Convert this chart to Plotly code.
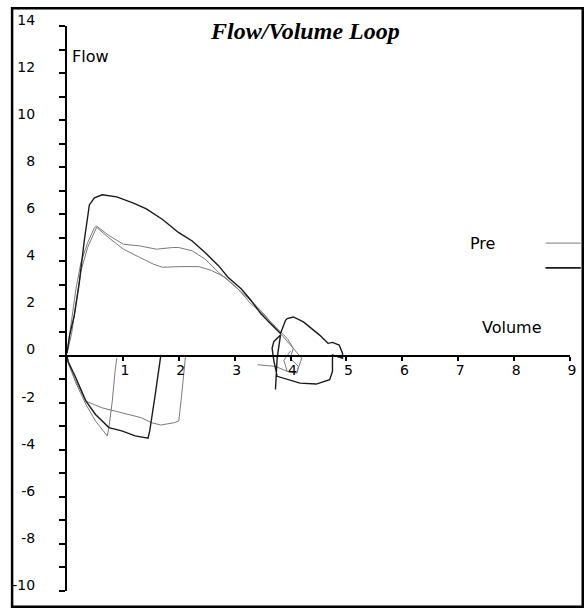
import plotly.graph_objects as go

# ---------------- data ----------------
# Post (dark) expiratory limb + tail loop
post_exp_x = [0.0, 0.05, 0.13, 0.22, 0.31, 0.40, 0.49, 0.63, 0.89, 1.19, 1.42, 1.71, 2.0, 2.24, 2.47, 2.71,
              2.88, 3.12, 3.29, 3.47, 3.64, 3.82, 3.91, 3.94, 4.05, 4.23, 4.52, 4.67, 4.75, 4.87, 4.93, 4.93,
              4.75, 4.75, 4.75, 4.70, 4.46, 4.17, 3.94, 3.76, 3.70, 3.67, 3.70, 3.82, 3.76, 3.73]
post_exp_y = [0.1, 0.9, 1.7, 3.1, 4.9, 6.4, 6.7, 6.83, 6.74, 6.48, 6.23, 5.78, 5.22, 4.87, 4.38, 3.82,
              3.33, 2.83, 2.35, 1.78, 1.36, 0.94, 1.5, 1.57, 1.64, 1.43, 0.87, 0.52, 0.56, 0.45, 0.1, -0.11,
              0.03, -0.53, -0.67, -1.02, -1.21, -1.17, -1.02, -0.88, -0.2, 0.31, 0.59, 0.87, -0.11, -1.44]
# Post (dark) inspiratory limb
post_insp_x = [0.0, 0.02, 0.16, 0.34, 0.51, 0.75, 0.98, 1.22, 1.45, 1.48, 1.57, 1.65, 1.68]
post_insp_y = [0.0, -0.25, -0.95, -1.94, -2.5, -3.06, -3.2, -3.41, -3.51, -3.2, -1.8, -0.39, 0.03]

# Pre trial 1 (grey): plateau ~4.5
pre1_exp_x = [0.0, 0.08, 0.16, 0.25, 0.37, 0.49, 0.53, 0.75, 1.01, 1.30, 1.60, 1.89, 2.0, 2.24, 2.47, 2.71,
              2.88, 3.12, 3.35, 3.55, 3.76, 3.94, 4.05, 4.11, 4.20, 4.11, 3.94, 3.73, 3.41]
pre1_exp_y = [0.1, 1.43, 2.83, 3.96, 4.8, 5.43, 5.5, 5.1, 4.73, 4.66, 4.52, 4.59, 4.59, 4.45, 4.1, 3.54,
              3.2, 2.7, 2.2, 1.7, 1.1, 0.6, 0.31, 0.17, -0.11, -0.74, -0.67, -0.46, -0.39]
pre1_insp_x = [0.0, 0.02, 0.16, 0.34, 0.51, 0.72, 0.75, 0.81, 0.86, 0.89]
pre1_insp_y = [0.0, -0.3, -1.17, -2.08, -2.78, -3.41, -3.06, -1.94, -0.67, -0.11]

# Pre trial 2 (grey): plateau ~3.8
pre2_exp_x = [0.0, 0.08, 0.16, 0.25, 0.37, 0.49, 0.53, 0.75, 1.01, 1.30, 1.54, 1.71, 2.01, 2.36, 2.59, 2.83,
              3.06, 3.29, 3.53, 3.76, 3.94, 4.05, 3.99, 4.14, 4.11, 3.94, 3.88, 4.0]
pre2_exp_y = [0.1, 0.9, 2.2, 3.6, 4.6, 5.3, 5.45, 5.0, 4.52, 4.17, 3.89, 3.75, 3.78, 3.78, 3.61, 3.33,
              2.83, 2.2, 1.71, 1.15, 0.73, 0.31, -0.11, -0.46, -0.74, -0.67, -0.2, 0.2]
pre2_insp_x = [0.0, 0.02, 0.16, 0.34, 0.63, 0.98, 1.33, 1.51, 1.68, 1.92, 2.0, 2.04, 2.09, 2.12]
pre2_insp_y = [0.0, -0.3, -1.1, -1.94, -2.22, -2.43, -2.64, -2.85, -2.95, -2.85, -2.78, -1.94, -0.53, -0.04]

y_tick_vals = list(range(-10, 15))
y_tick_text = [str(v) if v % 2 == 0 else "" for v in y_tick_vals]
x_tick_vals = [1, 2, 3, 4, 5, 6, 7, 8, 9]
x_tick_text = ["1", "2", "3", "4", "5", "6", "7", "8", "9"]

title_text = "Flow/Volume Loop"
y_title = "Flow"
x_title = "Volume"
legend_names = ["Pre", ""]

# ---------------- layout helpers ----------------
W, H = 588, 611
L, R, T, B = 59, 16, 21, 20
PW, PH = W - L - R, H - T - B


def px(x):
    return (x - L) / PW


def py(y):
    return (H - B - y) / PH


GREY = "#7a7a7a"
DARK = "#1a1a1a"
FONT = "DejaVu Sans, Liberation Sans, Arial, sans-serif"

fig = go.Figure()
for xs, ys in [(pre1_exp_x, pre1_exp_y), (pre1_insp_x, pre1_insp_y),
               (pre2_exp_x, pre2_exp_y), (pre2_insp_x, pre2_insp_y)]:
    fig.add_trace(go.Scatter(x=xs, y=ys, mode="lines", line=dict(color=GREY, width=1),
                             showlegend=False, hoverinfo="skip"))
for xs, ys in [(post_exp_x, post_exp_y), (post_insp_x, post_insp_y)]:
    fig.add_trace(go.Scatter(x=xs, y=ys, mode="lines", line=dict(color=DARK, width=1.4),
                             showlegend=False, hoverinfo="skip"))

fig.update_layout(
    width=W, height=H,
    margin=dict(l=L, r=R, t=T, b=B, pad=0),
    paper_bgcolor="white", plot_bgcolor="white",
    showlegend=False,
    font=dict(family=FONT, size=14, color="black"),
    xaxis=dict(range=[0, 9], anchor="free", position=10 / 24, showline=True, linewidth=2,
               linecolor="black", ticks="outside", ticklen=4, tickwidth=1.5, tickcolor="black",
               tickmode="array", tickvals=x_tick_vals, ticktext=x_tick_text,
               ticklabelshift=2, ticklabelstandoff=-2, showgrid=False, zeroline=False,
               tickfont=dict(family=FONT, size=14)),
    yaxis=dict(range=[-10, 14], showline=True, linewidth=2, linecolor="black",
               ticks="outside", ticklen=6, tickwidth=1.5, tickcolor="black",
               tickmode="array", tickvals=y_tick_vals, ticktext=y_tick_text,
               ticklabelstandoff=21, ticklabelshift=-6, showgrid=False, zeroline=False,
               tickfont=dict(family=FONT, size=14)),
)

annots = [
    dict(text="<b><i>" + title_text + "</i></b>", x=px(203), y=py(26), xanchor="left", yanchor="middle",
         font=dict(family="Liberation Serif, Times New Roman, serif", size=24)),
    dict(text=y_title, x=px(62), y=py(52), xanchor="left", yanchor="middle", font=dict(size=16)),
    dict(text=x_title, x=px(480), y=py(325), xanchor="left", yanchor="middle", font=dict(size=16)),
    dict(text=legend_names[0], x=px(468), y=py(240), xanchor="left", yanchor="middle", font=dict(size=16)),
]
for a in annots:
    a.update(xref="paper", yref="paper", showarrow=False)
    fig.add_annotation(**a)

fig.add_shape(type="line", xref="paper", yref="paper", x0=px(547), x1=px(583), y0=py(240), y1=py(240),
              line=dict(color=GREY, width=1))
fig.add_shape(type="line", xref="paper", yref="paper", x0=px(547), x1=px(583), y0=py(265), y1=py(265),
              line=dict(color=DARK, width=1.6))
fig.add_shape(type="rect", xref="paper", yref="paper", x0=px(3), x1=px(585), y0=py(607), y1=py(3),
              line=dict(color="black", width=2.5), fillcolor="rgba(0,0,0,0)", layer="above")

fig.write_html("out.html", config={"displayModeBar": False},
               post_script="document.body.style.margin='0';document.body.style.overflow='hidden';")
